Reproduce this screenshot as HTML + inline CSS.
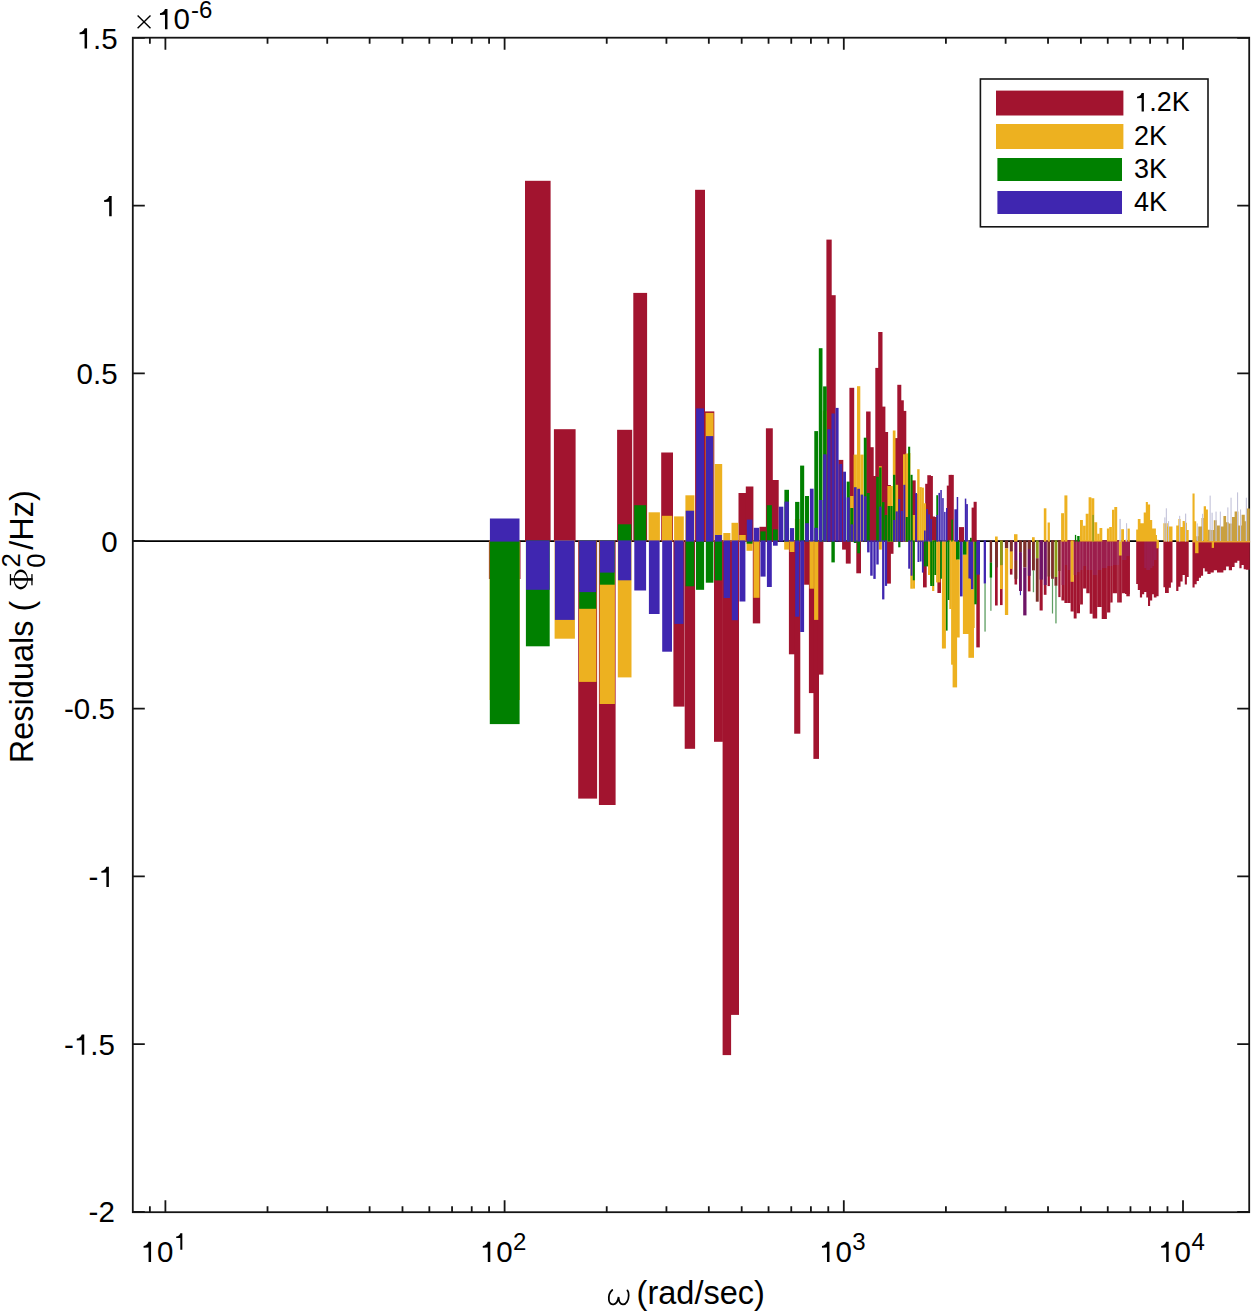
<!DOCTYPE html>
<html><head><meta charset="utf-8"><style>
html,body{margin:0;padding:0;background:#fff;}
svg{display:block;}
text{font-family:"Liberation Sans",sans-serif;fill:#000;}
</style></head><body>
<svg width="1252" height="1312" viewBox="0 0 1252 1312">
<rect width="1252" height="1312" fill="#fff"/>
<path d="M132.8 541.05H1249.2" stroke="#000" stroke-width="1.8"/>
<rect x="132.8" y="37.7" width="1116.4" height="1174.5" fill="none" stroke="#151515" stroke-width="1.8"/>
<path d="M165.40 1212.2V1200.2M165.40 37.7V49.7M267.51 1212.2V1206.2M267.51 37.7V43.7M327.24 1212.2V1206.2M327.24 37.7V43.7M369.62 1212.2V1206.2M369.62 37.7V43.7M402.49 1212.2V1206.2M402.49 37.7V43.7M429.35 1212.2V1206.2M429.35 37.7V43.7M452.06 1212.2V1206.2M452.06 37.7V43.7M471.73 1212.2V1206.2M471.73 37.7V43.7M489.08 1212.2V1206.2M489.08 37.7V43.7M504.60 1212.2V1200.2M504.60 37.7V49.7M606.71 1212.2V1206.2M606.71 37.7V43.7M666.44 1212.2V1206.2M666.44 37.7V43.7M708.82 1212.2V1206.2M708.82 37.7V43.7M741.69 1212.2V1206.2M741.69 37.7V43.7M768.55 1212.2V1206.2M768.55 37.7V43.7M791.26 1212.2V1206.2M791.26 37.7V43.7M810.93 1212.2V1206.2M810.93 37.7V43.7M828.28 1212.2V1206.2M828.28 37.7V43.7M843.80 1212.2V1200.2M843.80 37.7V49.7M945.91 1212.2V1206.2M945.91 37.7V43.7M1005.64 1212.2V1206.2M1005.64 37.7V43.7M1048.02 1212.2V1206.2M1048.02 37.7V43.7M1080.89 1212.2V1206.2M1080.89 37.7V43.7M1107.75 1212.2V1206.2M1107.75 37.7V43.7M1130.46 1212.2V1206.2M1130.46 37.7V43.7M1150.13 1212.2V1206.2M1150.13 37.7V43.7M1167.48 1212.2V1206.2M1167.48 37.7V43.7M1183.00 1212.2V1200.2M1183.00 37.7V49.7M149.88 1212.2V1206.2M149.88 37.7V43.7M132.8 37.90H144.8M1249.2 37.90H1237.2M132.8 205.60H144.8M1249.2 205.60H1237.2M132.8 373.30H144.8M1249.2 373.30H1237.2M132.8 541.00H144.8M1249.2 541.00H1237.2M132.8 708.70H144.8M1249.2 708.70H1237.2M132.8 876.40H144.8M1249.2 876.40H1237.2M132.8 1044.10H144.8M1249.2 1044.10H1237.2M132.8 1211.80H144.8M1249.2 1211.80H1237.2" stroke="#151515" stroke-width="1.8" fill="none"/>
<g fill="#A2142F"><rect x="488.9" y="540.4" width="31.6" height="38.6"/><rect x="525" y="180.8" width="25.6" height="360.8"/><rect x="553.9" y="429.2" width="21.7" height="112.4"/><rect x="578.2" y="540.4" width="18.9" height="258.2"/><rect x="598.9" y="540.4" width="16.7" height="264.6"/><rect x="617.1" y="429.8" width="15.1" height="111.8"/><rect x="633.3" y="292.9" width="13.8" height="248.7"/><rect x="661.2" y="452.5" width="11.8" height="89.1"/><rect x="673.4" y="540.4" width="11.1" height="166.2"/><rect x="684.7" y="540.4" width="10.4" height="208.4"/><rect x="695.1" y="189.8" width="9.9" height="351.8"/><rect x="704.9" y="411.4" width="9.4" height="130.2"/><rect x="714" y="540.4" width="8.9" height="201.4"/><rect x="722.6" y="540.4" width="8.5" height="514.7"/><rect x="730.8" y="540.4" width="8.2" height="474.5"/><rect x="738.5" y="493" width="7.9" height="48.6"/><rect x="745.8" y="486.5" width="7.6" height="55.1"/><rect x="752.8" y="540.4" width="7.4" height="83"/><rect x="759.5" y="526.8" width="7.1" height="14.8"/><rect x="765.9" y="428.3" width="6.9" height="113.3"/><rect x="772" y="480" width="6.7" height="61.6"/><rect x="788.9" y="540.4" width="6.2" height="113.9"/><rect x="794.2" y="540.4" width="6.1" height="193.3"/><rect x="804.1" y="540.4" width="5.8" height="44.3"/><rect x="808.9" y="540.4" width="5.7" height="152.7"/><rect x="813.4" y="540.4" width="5.6" height="218.5"/><rect x="817.9" y="540.4" width="5.5" height="134.2"/><rect x="826.4" y="239.6" width="5.3" height="302"/><rect x="830.5" y="295.2" width="5.2" height="246.4"/><rect x="838.3" y="459.9" width="5" height="81.7"/><rect x="842.1" y="540.4" width="4.9" height="9.2"/><rect x="845.8" y="540.4" width="4.9" height="23.2"/><rect x="849.4" y="387.8" width="4.8" height="153.8"/><rect x="856.3" y="540.4" width="4.7" height="32.9"/><rect x="866.1" y="411.5" width="4.5" height="130.1"/><rect x="869.2" y="447.2" width="4.5" height="94.4"/><rect x="872.3" y="476" width="4.4" height="65.6"/><rect x="875.3" y="367.9" width="4.4" height="173.7"/><rect x="878.2" y="332" width="4.3" height="209.6"/><rect x="881.1" y="406.6" width="4.3" height="135"/><rect x="883.9" y="432" width="4.2" height="109.6"/><rect x="886.7" y="485" width="4.2" height="56.6"/><rect x="886.7" y="540.4" width="4.2" height="43.2"/><rect x="889.4" y="540.4" width="4.1" height="13.4"/><rect x="894.7" y="438.1" width="4.1" height="103.5"/><rect x="897.3" y="384.8" width="4" height="156.8"/><rect x="899.8" y="400.3" width="4" height="141.3"/><rect x="902.3" y="410.9" width="4" height="130.7"/><rect x="911.9" y="480.4" width="3.8" height="61.2"/><rect x="914.2" y="494" width="3.8" height="47.6"/><rect x="923" y="540.4" width="3.7" height="47"/><rect x="925.2" y="483.8" width="3.7" height="57.8"/><rect x="927.3" y="475.2" width="3.7" height="66.4"/><rect x="929.3" y="476" width="3.6" height="65.6"/><rect x="931.4" y="516.5" width="3.6" height="25.1"/><rect x="933.4" y="517" width="3.6" height="24.6"/><rect x="937.4" y="540.4" width="3.6" height="52.6"/><rect x="946.8" y="485.6" width="3.5" height="56"/><rect x="948.6" y="474.9" width="3.4" height="66.7"/><rect x="950.4" y="474.9" width="3.4" height="66.7"/></g>
<g fill="#EDB120"><rect x="489.6" y="540.4" width="30.2" height="159.6"/><rect x="554.6" y="540.4" width="20.3" height="98.3"/><rect x="578.9" y="540.4" width="17.5" height="141.5"/><rect x="599.6" y="540.4" width="15.3" height="163.6"/><rect x="617.8" y="540.4" width="13.7" height="137"/><rect x="648.6" y="512.3" width="11.3" height="29.3"/><rect x="661.9" y="515.8" width="10.4" height="25.8"/><rect x="674.1" y="516.4" width="9.7" height="25.2"/><rect x="685.4" y="495.3" width="9" height="46.3"/><rect x="705.6" y="412.9" width="8" height="128.7"/><rect x="714.7" y="464" width="7.5" height="77.6"/><rect x="723.3" y="533" width="7.1" height="8.6"/><rect x="731.5" y="522.8" width="6.8" height="18.8"/><rect x="739.2" y="535" width="6.5" height="6.6"/><rect x="746.5" y="540.4" width="6.2" height="10.4"/><rect x="753.5" y="540.4" width="6" height="57.4"/><rect x="784.2" y="540.4" width="5" height="9.2"/><rect x="789.6" y="540.4" width="4.8" height="11.6"/><rect x="794.9" y="519" width="4.7" height="22.6"/><rect x="809.6" y="540.4" width="4.3" height="48.3"/><rect x="814.1" y="540.4" width="4.2" height="79.5"/><rect x="822.9" y="410.7" width="4" height="130.9"/><rect x="850.1" y="496" width="3.4" height="45.6"/><rect x="853.6" y="454.6" width="3.3" height="87"/><rect x="857" y="386.2" width="3.3" height="155.4"/><rect x="860.3" y="454.6" width="3.2" height="87"/><rect x="878.9" y="466.2" width="2.9" height="75.4"/><rect x="878.9" y="540.4" width="2.9" height="9.2"/><rect x="887.4" y="486" width="2.8" height="55.6"/><rect x="890.1" y="486" width="2.7" height="55.6"/><rect x="892.8" y="430.5" width="2.7" height="111.1"/><rect x="895.4" y="484.8" width="2.7" height="56.8"/><rect x="903" y="454.3" width="2.6" height="87.3"/><rect x="905.5" y="453.5" width="2.5" height="88.1"/><rect x="907.9" y="453" width="2.5" height="88.6"/><rect x="910.3" y="540.4" width="2.5" height="48.3"/><rect x="912.6" y="515" width="2.4" height="26.6"/><rect x="912.6" y="540.4" width="2.4" height="48.2"/><rect x="917.2" y="469.2" width="2.4" height="72.4"/><rect x="919.4" y="487.1" width="2.4" height="54.5"/><rect x="921.6" y="487.6" width="2.3" height="54"/><rect x="923.7" y="503.3" width="2.3" height="38.3"/><rect x="928" y="540.4" width="2.3" height="34.6"/><rect x="930" y="540.4" width="2.2" height="43.3"/><rect x="932.1" y="540.4" width="2.2" height="50.6"/><rect x="936.1" y="540.4" width="2.2" height="42"/><rect x="938.1" y="540.4" width="2.2" height="42"/><rect x="941.9" y="540.4" width="2.1" height="108.1"/><rect x="943.8" y="540.4" width="2.1" height="108.1"/><rect x="949.3" y="540.4" width="2" height="68.6"/><rect x="951.1" y="540.4" width="2" height="124.3"/></g>
<g fill="#008000"><rect x="489.8" y="540.4" width="29.8" height="183.7"/><rect x="525.9" y="540.4" width="23.8" height="105.9"/><rect x="579.1" y="540.4" width="17.1" height="68.4"/><rect x="599.8" y="540.4" width="14.9" height="44.3"/><rect x="618" y="524.3" width="13.3" height="17.3"/><rect x="634.2" y="505.2" width="12" height="36.4"/><rect x="685.6" y="540.4" width="8.6" height="45.9"/><rect x="696" y="540.4" width="8.1" height="49.4"/><rect x="705.8" y="540.4" width="7.6" height="42.3"/><rect x="714.9" y="540.4" width="7.1" height="40"/><rect x="746.7" y="540.4" width="5.8" height="3.3"/><rect x="760.4" y="531.4" width="5.3" height="10.2"/><rect x="766.8" y="505.2" width="5.1" height="36.4"/><rect x="772.9" y="529.4" width="4.9" height="12.2"/><rect x="784.4" y="489.8" width="4.6" height="51.8"/><rect x="795.1" y="501.9" width="4.3" height="39.7"/><rect x="800.1" y="465.6" width="4.1" height="76"/><rect x="805" y="496" width="4" height="45.6"/><rect x="814.3" y="431.1" width="3.8" height="110.5"/><rect x="818.8" y="348.2" width="3.7" height="193.4"/><rect x="823.1" y="386.4" width="3.6" height="155.2"/><rect x="831.4" y="540.4" width="3.4" height="22"/><rect x="846.7" y="481.6" width="3.1" height="60"/><rect x="850.3" y="508" width="3" height="33.6"/><rect x="853.8" y="540.4" width="2.9" height="2.6"/><rect x="857.2" y="540.4" width="2.9" height="12.9"/><rect x="863.8" y="437.7" width="2.8" height="103.9"/><rect x="867" y="493" width="2.7" height="48.6"/><rect x="876.2" y="476.8" width="2.6" height="64.8"/><rect x="879.1" y="467.4" width="2.5" height="74.2"/><rect x="882" y="502.1" width="2.5" height="39.5"/><rect x="884.8" y="515" width="2.4" height="26.6"/><rect x="887.6" y="506" width="2.4" height="35.6"/><rect x="890.3" y="506" width="2.3" height="35.6"/><rect x="893" y="474.8" width="2.3" height="66.8"/><rect x="898.2" y="540.4" width="2.2" height="6.9"/><rect x="905.7" y="517" width="2.1" height="24.6"/><rect x="908.1" y="446.7" width="2.1" height="94.9"/><rect x="910.5" y="474.8" width="2.1" height="66.8"/><rect x="912.8" y="540.4" width="2" height="39.9"/><rect x="923.9" y="540.4" width="1.9" height="26"/><rect x="926.1" y="540.4" width="1.9" height="26"/><rect x="930.2" y="540.4" width="1.8" height="45.6"/><rect x="932.3" y="540.4" width="1.8" height="45.6"/><rect x="934.3" y="540.4" width="1.8" height="34.6"/><rect x="936.3" y="495.2" width="1.8" height="46.4"/><rect x="940.2" y="540.4" width="1.7" height="38.3"/><rect x="945.9" y="540.4" width="1.7" height="90.2"/><rect x="947.7" y="540.4" width="1.7" height="59.6"/><rect x="951.3" y="519.6" width="1.6" height="22"/></g>
<g fill="#3F26B0"><rect x="489.9" y="518.5" width="29.6" height="23.1"/><rect x="526" y="540.4" width="23.6" height="49.4"/><rect x="554.9" y="540.4" width="19.7" height="79.5"/><rect x="579.2" y="540.4" width="16.9" height="51.7"/><rect x="599.9" y="540.4" width="14.7" height="32.2"/><rect x="618.1" y="540.4" width="13.1" height="39.9"/><rect x="634.3" y="540.4" width="11.8" height="50.1"/><rect x="648.9" y="540.4" width="10.7" height="73.6"/><rect x="662.2" y="540.4" width="9.8" height="111.3"/><rect x="674.4" y="540.4" width="9.1" height="83.5"/><rect x="685.7" y="510.7" width="8.4" height="30.9"/><rect x="696.1" y="408.4" width="7.9" height="133.2"/><rect x="705.9" y="436.1" width="7.4" height="105.5"/><rect x="715" y="535" width="6.9" height="6.6"/><rect x="723.6" y="540.4" width="6.5" height="57.6"/><rect x="731.8" y="540.4" width="6.2" height="79.8"/><rect x="739.5" y="540.4" width="5.9" height="61.1"/><rect x="746.8" y="519.6" width="5.6" height="22"/><rect x="753.8" y="527.8" width="5.4" height="13.8"/><rect x="760.5" y="540.4" width="5.1" height="36.2"/><rect x="766.9" y="540.4" width="4.9" height="46.6"/><rect x="773" y="540.4" width="4.7" height="5.3"/><rect x="778.8" y="506.7" width="4.5" height="34.9"/><rect x="784.5" y="501.6" width="4.4" height="40"/><rect x="789.9" y="528.1" width="4.2" height="13.5"/><rect x="795.2" y="540.4" width="4.1" height="76.3"/><rect x="800.2" y="540.4" width="3.9" height="91.6"/><rect x="805.1" y="523.2" width="3.8" height="18.4"/><rect x="809.9" y="488.7" width="3.7" height="52.9"/><rect x="814.4" y="527.8" width="3.6" height="13.8"/><rect x="818.9" y="500" width="3.5" height="41.6"/><rect x="823.2" y="454.3" width="3.4" height="87.3"/><rect x="827.4" y="429.1" width="3.3" height="112.5"/><rect x="831.5" y="413.5" width="3.2" height="128.1"/><rect x="835.5" y="407.9" width="3.1" height="133.7"/><rect x="839.3" y="464" width="3" height="77.6"/><rect x="843.1" y="471.7" width="2.9" height="69.9"/><rect x="846.8" y="497.4" width="2.9" height="44.2"/><rect x="850.4" y="524.4" width="2.8" height="17.2"/><rect x="853.9" y="487.2" width="2.7" height="54.4"/><rect x="857.3" y="488.8" width="2.7" height="52.8"/><rect x="860.6" y="494.6" width="2.6" height="47"/><rect x="863.9" y="496.3" width="2.6" height="45.3"/><rect x="867.1" y="540.4" width="2.5" height="12"/><rect x="870.2" y="540.4" width="2.5" height="35.3"/><rect x="873.3" y="540.4" width="2.4" height="38.5"/><rect x="876.3" y="540.4" width="2.4" height="24.1"/><rect x="879.2" y="506.6" width="2.3" height="35"/><rect x="882.1" y="540.4" width="2.3" height="59"/><rect x="884.9" y="540.4" width="2.2" height="45.5"/><rect x="893.1" y="520" width="2.1" height="21.6"/><rect x="895.7" y="511.4" width="2.1" height="30.2"/><rect x="898.3" y="499" width="2" height="42.6"/><rect x="900.8" y="511" width="2" height="30.6"/><rect x="903.3" y="484.8" width="2" height="56.8"/><rect x="908.2" y="540.4" width="1.9" height="28.3"/><rect x="910.6" y="540.4" width="1.9" height="35.3"/><rect x="915.2" y="493" width="1.8" height="48.6"/><rect x="917.5" y="540.4" width="1.8" height="21.6"/><rect x="919.7" y="540.4" width="1.8" height="21.1"/><rect x="921.9" y="540.4" width="1.7" height="32.2"/><rect x="924" y="530.5" width="1.7" height="11.1"/><rect x="926.2" y="509" width="1.7" height="32.6"/><rect x="928.3" y="514.3" width="1.7" height="27.3"/><rect x="930.3" y="519" width="1.6" height="22.6"/><rect x="936.4" y="515" width="1.6" height="26.6"/><rect x="938.4" y="492.9" width="1.6" height="48.7"/><rect x="940.3" y="490" width="1.5" height="51.6"/><rect x="942.2" y="498.1" width="1.5" height="43.5"/><rect x="944.1" y="511.9" width="1.5" height="29.7"/><rect x="946" y="508" width="1.5" height="33.6"/></g>
<path d="M969.70 540.4L970.90 540.4L970.90 622.7L969.70 622.7Z" fill="#A2142F"/>
<path d="M976.30 540.4L979.80 540.4L979.80 647.4L976.30 647.4Z" fill="#A2142F"/>
<path d="M995.00 540.4L997.70 540.4L997.70 605.5L995.00 605.5Z" fill="#A2142F"/>
<path d="M1000.00 540.4L1002.60 540.4L1002.60 605.1L1000.00 605.1Z" fill="#A2142F"/>
<path d="M1009.90 540.4L1012.50 540.4L1012.50 574.6L1009.90 574.6Z" fill="#A2142F"/>
<path d="M1014.50 540.4L1017.10 540.4L1017.10 584.5L1014.50 584.5Z" fill="#A2142F"/>
<path d="M1027.80 540.4L1030.50 540.4L1030.50 591.4L1027.80 591.4Z" fill="#A2142F"/>
<path d="M1039.60 540.4L1042.70 540.4L1042.70 610.5L1039.60 610.5Z" fill="#A2142F"/>
<path d="M1043.80 540.4L1046.50 540.4L1046.50 594.8L1043.80 594.8Z" fill="#A2142F"/>
<path d="M1047.60 540.4L1049.90 540.4L1049.90 586.1L1047.60 586.1Z" fill="#A2142F"/>
<path d="M1058.30 540.4L1060.60 540.4L1060.60 597.1L1058.30 597.1Z" fill="#A2142F"/>
<path d="M1061.40 540.4L1126.30 540.4L1126.30 593.2L1121.80 593.2L1121.80 602.4L1118.90 602.4L1118.90 602.4L1117.20 602.4L1117.20 593.2L1112.60 593.2L1112.60 602.4L1110.30 602.4L1110.30 612.6L1106.90 612.6L1106.90 618.9L1101.70 618.9L1101.70 606.9L1097.20 606.9L1097.20 618.4L1092.60 618.4L1092.60 613.8L1089.70 613.8L1089.70 593.2L1086.30 593.2L1086.30 588.6L1082.90 588.6L1082.90 604.6L1080.00 604.6L1080.00 613.2L1076.60 613.2L1076.60 618.4L1073.70 618.4L1073.70 611.5L1070.60 611.5L1070.60 602.9L1067.40 602.9L1067.40 602.9L1064.40 602.9L1064.40 600.6L1061.40 600.6Z" fill="#A2142F"/>
<path d="M1125.00 540.4L1129.80 540.4L1129.80 594.0L1125.00 594.0Z" fill="#A2142F"/>
<path d="M1126.30 540.4L1129.80 540.4L1129.80 596.3L1126.30 596.3Z" fill="#A2142F"/>
<path d="M1136.20 540.4L1158.60 540.4L1158.60 596.3L1156.50 596.3L1156.50 597.4L1153.80 597.4L1153.80 594.2L1152.20 594.2L1152.20 600.6L1150.10 600.6L1150.10 605.9L1148.00 605.9L1148.00 597.4L1146.30 597.4L1146.30 592.1L1144.20 592.1L1144.20 594.2L1142.10 594.2L1142.10 597.4L1139.90 597.4L1139.90 590.0L1137.80 590.0L1137.80 584.0L1136.20 584.0Z" fill="#A2142F"/>
<path d="M1163.40 540.4L1172.50 540.4L1172.50 582.5L1170.90 582.5L1170.90 587.8L1168.80 587.8L1168.80 593.1L1165.00 593.1L1165.00 587.3L1163.40 587.3Z" fill="#A2142F"/>
<path d="M1176.20 540.4L1188.70 540.4L1188.70 577.1L1186.90 577.1L1186.90 584.6L1184.80 584.6L1184.80 575.0L1182.60 575.0L1182.60 581.4L1180.50 581.4L1180.50 586.7L1178.40 586.7L1178.40 591.0L1176.20 591.0Z" fill="#A2142F"/>
<path d="M1192.50 540.4L1249.80 540.4L1249.80 569.8L1245.80 569.8L1245.80 569.3L1243.70 569.3L1243.70 565.0L1241.60 565.0L1241.60 568.2L1239.40 568.2L1239.40 560.7L1237.30 560.7L1237.30 562.8L1234.60 562.8L1234.60 567.1L1232.00 567.1L1232.00 570.3L1228.80 570.3L1228.80 566.6L1226.10 566.6L1226.10 570.3L1223.40 570.3L1223.40 572.5L1220.20 572.5L1220.20 572.5L1217.00 572.5L1217.00 570.3L1213.80 570.3L1213.80 572.5L1210.60 572.5L1210.60 574.1L1207.40 574.1L1207.40 571.4L1204.70 571.4L1204.70 568.2L1203.10 568.2L1203.10 575.7L1201.00 575.7L1201.00 577.8L1198.90 577.8L1198.90 581.0L1196.70 581.0L1196.70 584.2L1194.60 584.2L1194.60 587.4L1192.50 587.4Z" fill="#A2142F"/>
<rect x="952.60" y="540.4" width="4.50" height="147.0" fill="#EDB120"/>
<rect x="956.00" y="540.4" width="3.70" height="19.3" fill="#008000"/>
<rect x="956.00" y="559.7" width="3.70" height="77.8" fill="#EDB120"/>
<rect x="960.00" y="540.4" width="2.60" height="56.0" fill="#3F26B0"/>
<rect x="962.90" y="540.4" width="4.20" height="14.4" fill="#008000"/>
<rect x="962.90" y="554.8" width="4.20" height="79.2" fill="#EDB120"/>
<rect x="966.40" y="540.4" width="2.70" height="93.6" fill="#EDB120"/>
<rect x="968.40" y="540.4" width="2.70" height="38.2" fill="#3F26B0"/>
<rect x="968.40" y="578.6" width="2.70" height="79.2" fill="#EDB120"/>
<rect x="969.70" y="540.4" width="1.40" height="38.2" fill="#3F26B0"/>
<rect x="970.90" y="540.4" width="3.10" height="49.1" fill="#3F26B0"/>
<rect x="970.90" y="589.5" width="3.10" height="68.3" fill="#EDB120"/>
<rect x="973.30" y="540.4" width="1.40" height="87.6" fill="#EDB120"/>
<rect x="974.30" y="540.4" width="2.40" height="63.9" fill="#008000"/>
<rect x="976.30" y="540.4" width="3.70" height="34.2" fill="#3F26B0"/>
<rect x="983.70" y="540.4" width="2.20" height="43.1" fill="#3F26B0"/>
<rect x="984.40" y="540.4" width="1.30" height="43.1" fill="#3F26B0"/>
<rect x="984.40" y="583.5" width="1.30" height="48.1" fill="#5E9E62"/>
<rect x="989.70" y="540.4" width="2.40" height="22.3" fill="#7B2F2A"/>
<rect x="989.70" y="562.7" width="2.40" height="14.9" fill="#008000"/>
<rect x="990.30" y="540.4" width="1.20" height="22.3" fill="#7B2F2A"/>
<rect x="990.30" y="562.7" width="1.20" height="14.9" fill="#008000"/>
<rect x="990.30" y="577.6" width="1.20" height="33.2" fill="#5E9E62"/>
<rect x="995.00" y="540.4" width="2.90" height="27.0" fill="#7B2F2A"/>
<rect x="1000.00" y="540.4" width="2.80" height="24.7" fill="#8C9A18"/>
<rect x="1000.00" y="565.1" width="2.80" height="24.0" fill="#EDB120"/>
<rect x="1004.90" y="540.4" width="3.30" height="7.9" fill="#7B2F2A"/>
<rect x="1004.90" y="548.3" width="3.30" height="66.7" fill="#EDB120"/>
<rect x="1009.90" y="540.4" width="2.80" height="11.0" fill="#7B2F2A"/>
<rect x="1009.90" y="551.4" width="2.80" height="17.5" fill="#EDB120"/>
<rect x="1014.50" y="540.4" width="2.80" height="20.1" fill="#6E1466"/>
<rect x="1014.50" y="560.5" width="2.80" height="18.3" fill="#7B2F2A"/>
<rect x="1019.00" y="540.4" width="2.90" height="11.7" fill="#7B2F2A"/>
<rect x="1019.00" y="552.1" width="2.90" height="38.9" fill="#6E1466"/>
<rect x="1019.90" y="540.4" width="1.10" height="11.7" fill="#7B2F2A"/>
<rect x="1019.90" y="552.1" width="1.10" height="38.9" fill="#6E1466"/>
<rect x="1019.90" y="591.0" width="1.10" height="4.2" fill="#3F26B0"/>
<rect x="1023.20" y="540.4" width="3.30" height="27.0" fill="#7B2F2A"/>
<rect x="1023.20" y="567.4" width="3.30" height="48.0" fill="#6E1466"/>
<rect x="1027.80" y="540.4" width="2.90" height="8.6" fill="#7B2F2A"/>
<rect x="1027.80" y="549.0" width="2.90" height="26.8" fill="#6E1466"/>
<rect x="1032.00" y="540.4" width="2.90" height="30.0" fill="#7B2F2A"/>
<rect x="1032.80" y="540.4" width="1.30" height="30.0" fill="#7B2F2A"/>
<rect x="1032.80" y="570.4" width="1.30" height="21.8" fill="#5E9E62"/>
<rect x="1035.80" y="540.4" width="2.90" height="17.8" fill="#8C9A18"/>
<rect x="1035.80" y="558.2" width="2.90" height="43.5" fill="#7B2F2A"/>
<rect x="1039.60" y="540.4" width="3.30" height="39.2" fill="#6E1466"/>
<rect x="1043.80" y="540.4" width="2.90" height="44.6" fill="#6E1466"/>
<rect x="1047.60" y="540.4" width="2.50" height="36.1" fill="#7B2F2A"/>
<rect x="1051.10" y="540.4" width="2.80" height="38.4" fill="#7B2F2A"/>
<rect x="1051.90" y="540.4" width="1.20" height="38.4" fill="#7B2F2A"/>
<rect x="1051.90" y="578.8" width="1.20" height="34.7" fill="#5E9E62"/>
<rect x="1054.50" y="540.4" width="2.90" height="36.6" fill="#8C9A18"/>
<rect x="1054.50" y="577.0" width="2.90" height="8.7" fill="#7B2F2A"/>
<rect x="1055.30" y="540.4" width="1.30" height="36.6" fill="#8C9A18"/>
<rect x="1055.30" y="577.0" width="1.30" height="8.7" fill="#7B2F2A"/>
<rect x="1055.30" y="585.7" width="1.30" height="37.7" fill="#5E9E62"/>
<rect x="1058.30" y="540.4" width="2.50" height="30.6" fill="#7B2F2A"/>
<rect x="1060.60" y="540.4" width="1.10" height="56.2" fill="#D07080"/>
<rect x="1061.40" y="540.4" width="3.20" height="44.6" fill="#9C1D4C"/>
<rect x="1064.40" y="540.4" width="3.20" height="24.6" fill="#9C1D4C"/>
<rect x="1067.40" y="540.4" width="3.40" height="29.6" fill="#9C1D4C"/>
<rect x="1070.60" y="540.4" width="3.30" height="41.4" fill="#EDB120"/>
<rect x="1073.70" y="540.4" width="3.10" height="34.6" fill="#9C1D4C"/>
<rect x="1076.60" y="540.4" width="3.60" height="31.6" fill="#9C1D4C"/>
<rect x="1080.00" y="540.4" width="3.10" height="29.6" fill="#9C1D4C"/>
<rect x="1082.90" y="540.4" width="3.60" height="25.6" fill="#9C1D4C"/>
<rect x="1086.30" y="540.4" width="3.60" height="29.6" fill="#9C1D4C"/>
<rect x="1089.70" y="540.4" width="3.10" height="29.6" fill="#9C1D4C"/>
<rect x="1092.60" y="540.4" width="4.80" height="34.6" fill="#9C1D4C"/>
<rect x="1097.20" y="540.4" width="4.70" height="29.6" fill="#9C1D4C"/>
<rect x="1101.70" y="540.4" width="5.40" height="27.6" fill="#9C1D4C"/>
<rect x="1106.90" y="540.4" width="3.60" height="25.6" fill="#9C1D4C"/>
<rect x="1110.30" y="540.4" width="2.50" height="25.6" fill="#9C1D4C"/>
<rect x="1112.60" y="540.4" width="4.80" height="24.6" fill="#9C1D4C"/>
<rect x="1117.20" y="540.4" width="1.90" height="24.6" fill="#9C1D4C"/>
<rect x="1118.90" y="540.4" width="3.10" height="15.1" fill="#EDB120"/>
<rect x="1121.80" y="540.4" width="4.70" height="19.6" fill="#9C1D4C"/>
<rect x="1126.30" y="540.4" width="3.70" height="14.6" fill="#9C1D4C"/>
<rect x="1144.20" y="540.4" width="2.30" height="27.6" fill="#9C1D4C"/>
<rect x="1146.30" y="540.4" width="1.90" height="29.6" fill="#9C1D4C"/>
<rect x="1148.00" y="540.4" width="2.30" height="29.6" fill="#9C1D4C"/>
<rect x="1150.10" y="540.4" width="2.30" height="27.6" fill="#9C1D4C"/>
<rect x="1152.20" y="540.4" width="1.80" height="25.6" fill="#9C1D4C"/>
<rect x="1153.80" y="540.4" width="2.90" height="19.6" fill="#9C1D4C"/>
<rect x="1156.50" y="540.4" width="2.30" height="7.9" fill="#EDB120"/>
<rect x="1195.10" y="540.4" width="3.40" height="12.8" fill="#EDB120"/>
<rect x="1211.70" y="540.4" width="2.30" height="7.5" fill="#EDB120"/>
<rect x="1125.00" y="540.4" width="5.00" height="15.6" fill="#9C1D4C"/>
<path d="M995.00 541.6L997.70 541.6L997.70 536.5L995.00 536.5Z" fill="#EDB120"/>
<path d="M1014.00 541.6L1017.50 541.6L1017.50 534.2L1014.00 534.2Z" fill="#EDB120"/>
<path d="M1032.00 541.6L1034.70 541.6L1034.70 537.2L1032.00 537.2Z" fill="#EDB120"/>
<path d="M1043.80 541.6L1046.40 541.6L1046.40 508.3L1043.80 508.3Z" fill="#EDB120"/>
<path d="M1047.60 541.6L1049.90 541.6L1049.90 522.5L1047.60 522.5Z" fill="#EDB120"/>
<path d="M1061.10 541.6L1064.00 541.6L1064.00 513.2L1061.10 513.2Z" fill="#EDB120"/>
<path d="M1064.40 541.6L1067.40 541.6L1067.40 495.4L1064.40 495.4Z" fill="#EDB120"/>
<path d="M1080.00 541.6L1102.30 541.6L1102.30 528.0L1099.50 528.0L1099.50 533.7L1097.20 533.7L1097.20 522.3L1094.30 522.3L1094.30 498.3L1091.40 498.3L1091.40 497.2L1088.60 497.2L1088.60 513.7L1085.70 513.7L1085.70 525.7L1082.90 525.7L1082.90 520.0L1080.00 520.0Z" fill="#EDB120"/>
<path d="M1106.90 541.6L1117.20 541.6L1117.20 506.9L1114.30 506.9L1114.30 509.7L1112.00 509.7L1112.00 526.9L1109.20 526.9L1109.20 528.6L1106.90 528.6Z" fill="#EDB120"/>
<path d="M1121.20 541.6L1124.00 541.6L1124.00 529.2L1121.20 529.2Z" fill="#EDB120"/>
<path d="M1125.00 541.6L1126.00 541.6L1126.00 539.8L1125.00 539.8Z" fill="#EDB120"/>
<path d="M1127.50 541.6L1129.80 541.6L1129.80 528.6L1127.50 528.6Z" fill="#EDB120"/>
<path d="M1136.20 541.6L1158.60 541.6L1158.60 539.8L1157.00 539.8L1157.00 535.0L1155.90 535.0L1155.90 528.6L1152.20 528.6L1152.20 520.0L1150.10 520.0L1150.10 504.5L1147.90 504.5L1147.90 501.9L1145.80 501.9L1145.80 512.6L1143.70 512.6L1143.70 523.2L1140.50 523.2L1140.50 519.0L1137.80 519.0L1137.80 529.6L1136.20 529.6Z" fill="#EDB120"/>
<path d="M1163.40 541.6L1172.50 541.6L1172.50 526.4L1167.70 526.4L1167.70 523.2L1164.80 523.2L1164.80 523.2L1163.40 523.2Z" fill="#EDB120"/>
<path d="M1176.20 541.6L1188.70 541.6L1188.70 530.0L1186.90 530.0L1186.90 522.7L1184.80 522.7L1184.80 521.1L1182.60 521.1L1182.60 527.0L1180.50 527.0L1180.50 519.0L1178.40 519.0L1178.40 525.4L1176.20 525.4Z" fill="#EDB120"/>
<path d="M1192.50 541.6L1196.20 541.6L1196.20 521.2L1194.60 521.2L1194.60 493.5L1192.50 493.5Z" fill="#EDB120"/>
<path d="M1203.70 541.6L1207.90 541.6L1207.90 509.5L1206.00 509.5L1206.00 506.3L1203.70 506.3Z" fill="#EDB120"/>
<path d="M1196.20 541.6L1203.70 541.6L1203.70 518.0L1201.50 518.0L1201.50 526.6L1198.30 526.6L1198.30 536.2L1196.20 536.2Z" fill="#C9A040"/>
<path d="M1207.90 541.6L1249.80 541.6L1249.80 508.4L1246.40 508.4L1246.40 521.2L1244.80 521.2L1244.80 514.8L1241.60 514.8L1241.60 525.5L1238.40 525.5L1238.40 511.6L1234.60 511.6L1234.60 517.0L1232.00 517.0L1232.00 523.4L1228.80 523.4L1228.80 522.3L1226.10 522.3L1226.10 515.9L1223.40 515.9L1223.40 526.6L1220.20 526.6L1220.20 525.5L1217.00 525.5L1217.00 520.2L1213.80 520.2L1213.80 530.0L1210.60 530.0L1210.60 529.8L1207.90 529.8Z" fill="#C9A040"/>
<rect x="954.40" y="509.3" width="2.80" height="32.3" fill="#3F26B0"/>
<rect x="956.70" y="497.0" width="1.50" height="44.6" fill="#3F26B0"/>
<rect x="959.00" y="527.1" width="5.00" height="14.5" fill="#A2142F"/>
<rect x="964.80" y="498.6" width="1.50" height="43.0" fill="#3F26B0"/>
<rect x="966.10" y="504.1" width="1.80" height="37.5" fill="#3F26B0"/>
<rect x="970.00" y="537.8" width="1.80" height="3.8" fill="#008000"/>
<rect x="971.60" y="507.6" width="2.50" height="34.0" fill="#A2142F"/>
<rect x="973.60" y="501.8" width="3.10" height="39.8" fill="#A2142F"/>
<rect x="1074.90" y="534.9" width="1.30" height="6.7" fill="#008000"/>
<rect x="1077.20" y="536.0" width="2.40" height="5.6" fill="#008000"/>
<rect x="1092.40" y="514.9" width="1.40" height="26.7" fill="#8C9A18"/>
<rect x="1119.40" y="518.9" width="1.40" height="22.7" fill="#C4C4DA"/>
<rect x="1126.00" y="523.2" width="1.10" height="18.4" fill="#C4C4DA"/>
<rect x="1164.30" y="517.4" width="1.10" height="24.2" fill="#C4C4DA"/>
<rect x="1165.80" y="508.3" width="1.10" height="33.3" fill="#C4C4DA"/>
<rect x="1168.00" y="521.1" width="1.10" height="20.5" fill="#C4C4DA"/>
<rect x="1179.10" y="515.8" width="1.10" height="25.8" fill="#C4C4DA"/>
<rect x="1185.00" y="513.6" width="1.20" height="28.0" fill="#C4C4DA"/>
<rect x="1196.70" y="523.4" width="1.10" height="18.2" fill="#C4C4DA"/>
<rect x="1202.00" y="513.8" width="1.10" height="27.8" fill="#C4C4DA"/>
<rect x="1209.60" y="495.6" width="1.10" height="46.0" fill="#C4C4DA"/>
<rect x="1211.50" y="512.7" width="1.20" height="28.9" fill="#C4C4DA"/>
<rect x="1215.50" y="511.6" width="1.10" height="30.0" fill="#C4C4DA"/>
<rect x="1219.80" y="511.6" width="1.10" height="30.0" fill="#C4C4DA"/>
<rect x="1227.30" y="507.4" width="1.10" height="34.2" fill="#C4C4DA"/>
<rect x="1230.50" y="497.7" width="1.10" height="43.9" fill="#C4C4DA"/>
<rect x="1237.00" y="492.4" width="1.10" height="49.2" fill="#C4C4DA"/>
<rect x="1240.00" y="509.5" width="1.10" height="32.1" fill="#C4C4DA"/>
<rect x="1245.80" y="497.7" width="1.10" height="43.9" fill="#C4C4DA"/>
<rect x="1061.20" y="541.8" width="0.6" height="54.8" fill="#fff" fill-opacity="0.3"/>
<rect x="1064.10" y="541.8" width="0.6" height="58.8" fill="#fff" fill-opacity="0.3"/>
<rect x="1067.10" y="541.8" width="0.6" height="61.1" fill="#fff" fill-opacity="0.3"/>
<rect x="1070.30" y="541.8" width="0.6" height="61.1" fill="#fff" fill-opacity="0.3"/>
<rect x="1073.40" y="541.8" width="0.6" height="69.7" fill="#fff" fill-opacity="0.3"/>
<rect x="1076.30" y="541.8" width="0.6" height="71.4" fill="#fff" fill-opacity="0.3"/>
<rect x="1079.70" y="541.8" width="0.6" height="62.8" fill="#fff" fill-opacity="0.3"/>
<rect x="1082.60" y="541.8" width="0.6" height="46.8" fill="#fff" fill-opacity="0.3"/>
<rect x="1086.00" y="541.8" width="0.6" height="46.8" fill="#fff" fill-opacity="0.3"/>
<rect x="1089.40" y="541.8" width="0.6" height="51.4" fill="#fff" fill-opacity="0.3"/>
<rect x="1092.30" y="541.8" width="0.6" height="72.0" fill="#fff" fill-opacity="0.3"/>
<rect x="1096.90" y="541.8" width="0.6" height="65.1" fill="#fff" fill-opacity="0.3"/>
<rect x="1101.40" y="541.8" width="0.6" height="65.1" fill="#fff" fill-opacity="0.3"/>
<rect x="1106.60" y="541.8" width="0.6" height="70.8" fill="#fff" fill-opacity="0.3"/>
<rect x="1110.00" y="541.8" width="0.6" height="60.6" fill="#fff" fill-opacity="0.3"/>
<rect x="1112.30" y="541.8" width="0.6" height="51.4" fill="#fff" fill-opacity="0.3"/>
<rect x="1116.90" y="541.8" width="0.6" height="51.4" fill="#fff" fill-opacity="0.3"/>
<rect x="1118.60" y="541.8" width="0.6" height="60.6" fill="#fff" fill-opacity="0.3"/>
<rect x="1121.50" y="541.8" width="0.6" height="51.4" fill="#fff" fill-opacity="0.3"/>
<rect x="1082.60" y="525.7" width="0.6" height="14.5" fill="#fff" fill-opacity="0.3"/>
<rect x="1085.40" y="525.7" width="0.6" height="14.5" fill="#fff" fill-opacity="0.3"/>
<rect x="1088.30" y="513.7" width="0.6" height="26.5" fill="#fff" fill-opacity="0.3"/>
<rect x="1091.10" y="498.3" width="0.6" height="41.9" fill="#fff" fill-opacity="0.3"/>
<rect x="1094.00" y="522.3" width="0.6" height="17.9" fill="#fff" fill-opacity="0.3"/>
<rect x="1096.90" y="533.7" width="0.6" height="6.5" fill="#fff" fill-opacity="0.3"/>
<rect x="1099.20" y="533.7" width="0.6" height="6.5" fill="#fff" fill-opacity="0.3"/>
<rect x="1108.90" y="528.6" width="0.6" height="11.6" fill="#fff" fill-opacity="0.3"/>
<rect x="1111.70" y="526.9" width="0.6" height="13.3" fill="#fff" fill-opacity="0.3"/>
<rect x="1114.00" y="509.7" width="0.6" height="30.5" fill="#fff" fill-opacity="0.3"/>
<rect x="1192.5" y="541" width="57.6" height="1.4" fill="#E8A530"/>
<path d="M87.07,28.29L87.07,48.49L84.57,48.49L84.57,33.99L79.57,34.19L79.57,32.39C82.17,32.09 83.97,30.69 84.57,28.29Z"/><text x="93.00" y="48.50" font-size="29.5">.</text><text x="101.20" y="48.50" font-size="29.5">5</text><path d="M111.68,195.99L111.68,216.19L109.18,216.19L109.18,201.69L104.18,201.89L104.18,200.09C106.78,199.79 108.58,198.39 109.18,195.99Z"/><text x="76.59" y="383.90" font-size="29.5">0</text><text x="93.00" y="383.90" font-size="29.5">.</text><text x="101.20" y="383.90" font-size="29.5">5</text><text x="101.20" y="551.60" font-size="29.5">0</text><text x="63.97" y="719.30" font-size="29.5">-</text><text x="73.79" y="719.30" font-size="29.5">0</text><text x="90.20" y="719.30" font-size="29.5">.</text><text x="98.40" y="719.30" font-size="29.5">5</text><text x="88.57" y="887.00" font-size="29.5">-</text><path d="M108.88,866.79L108.88,886.99L106.38,886.99L106.38,872.49L101.38,872.69L101.38,870.89C103.98,870.59 105.78,869.19 106.38,866.79Z"/><text x="63.97" y="1054.70" font-size="29.5">-</text><path d="M84.27,1034.49L84.27,1054.69L81.77,1054.69L81.77,1040.19L76.77,1040.39L76.77,1038.59C79.37,1038.29 81.17,1036.89 81.77,1034.49Z"/><text x="90.20" y="1054.70" font-size="29.5">.</text><text x="98.40" y="1054.70" font-size="29.5">5</text><text x="88.57" y="1222.40" font-size="29.5">-</text><text x="98.40" y="1222.40" font-size="29.5">2</text>
<path d="M151.08,1241.79L151.08,1261.99L148.58,1261.99L148.58,1247.49L143.58,1247.69L143.58,1245.89C146.18,1245.59 147.98,1244.19 148.58,1241.79Z"/><text x="157.00" y="1262.00" font-size="29.5">0</text><path d="M182.33,1233.26L182.33,1249.69L180.30,1249.69L180.30,1237.90L176.23,1238.06L176.23,1236.60C178.34,1236.35 179.81,1235.21 180.30,1233.26Z"/><path d="M490.28,1241.79L490.28,1261.99L487.78,1261.99L487.78,1247.49L482.78,1247.69L482.78,1245.89C485.38,1245.59 487.18,1244.19 487.78,1241.79Z"/><text x="496.20" y="1262.00" font-size="29.5">0</text><text x="513.00" y="1249.70" font-size="24">2</text><path d="M829.48,1241.79L829.48,1261.99L826.98,1261.99L826.98,1247.49L821.98,1247.69L821.98,1245.89C824.58,1245.59 826.38,1244.19 826.98,1241.79Z"/><text x="835.40" y="1262.00" font-size="29.5">0</text><text x="852.20" y="1249.70" font-size="24">3</text><path d="M1168.68,1241.79L1168.68,1261.99L1166.18,1261.99L1166.18,1247.49L1161.18,1247.69L1161.18,1245.89C1163.78,1245.59 1165.58,1244.19 1166.18,1241.79Z"/><text x="1174.60" y="1262.00" font-size="29.5">0</text><text x="1191.40" y="1249.70" font-size="24">4</text>
<path d="M137.6 15.6L150.5 28.3M150.5 15.6L137.6 28.3" stroke="#000" stroke-width="1.4"/><path d="M167.48,9.09L167.48,29.29L164.98,29.29L164.98,14.79L159.98,14.99L159.98,13.19C162.58,12.89 164.38,11.49 164.98,9.09Z"/><text x="173.40" y="29.30" font-size="29.5">0</text><text x="191" y="17.8" font-size="24">-6</text>
<g>
<rect x="980.4" y="79" width="227.6" height="147.8" fill="#fff" stroke="#151515" stroke-width="1.6"/>
<rect x="996" y="90.6" width="127.4" height="24.9" fill="#A2142F"/>
<rect x="996" y="124" width="127.4" height="25" fill="#EDB120"/>
<rect x="997.4" y="158" width="124.6" height="23" fill="#008000"/>
<rect x="997.4" y="191" width="124.6" height="23" fill="#3F26B0"/>
<path d="M1143.89,92.91L1143.89,111.39L1141.60,111.39L1141.60,98.12L1137.03,98.31L1137.03,96.66C1139.41,96.38 1141.05,95.10 1141.60,92.91Z"/><text x="1149.31" y="111.40" font-size="27">.</text><text x="1156.82" y="111.40" font-size="27">2</text><text x="1171.83" y="111.40" font-size="27">K</text>
<text x="1134" y="145" font-size="27">2K</text>
<text x="1134" y="178" font-size="27">3K</text>
<text x="1134" y="211" font-size="27">4K</text>
</g>
<path d="M612.3 1290.0C609.8 1292.0 608.6 1296.5 608.9 1300.0C609.2 1303.2 611.3 1304.6 613.6 1304.3C616.3 1303.9 618.0 1300.5 618.6 1297.0C618.8 1300.8 620.2 1304.3 622.9 1304.4C626.3 1304.5 628.6 1300.0 628.7 1295.5C628.8 1293.0 628.2 1291.3 627.4 1290.4" fill="none" stroke="#000" stroke-width="1.75" stroke-linecap="round"/>
<text x="636.6" y="1304" font-size="32.5">(rad/sec)</text>
<g transform="translate(32.6,763.2) rotate(-90)">
<text x="0" y="0" font-size="32.5">Residuals (</text>
<text x="195.8" y="-12.6" font-size="25.7">2</text>
<text x="195.5" y="12.5" font-size="25.7">0</text>
<text x="213.5" y="0" font-size="32.5">/Hz)</text>
</g>
<g fill="#000"><rect x="10.0" y="578.1" width="22.6" height="2.6"/><rect x="9.8" y="574.1" width="1.3" height="11.2"/><rect x="31.3" y="574.1" width="1.3" height="11.2"/>
<path fill-rule="evenodd" d="M20.8 569.4a7.1 10 0 1 0 0.01 0ZM20.8 571.9a6.3 7.5 0 1 1 -0.01 0Z"/></g>
</svg>
</body></html>
